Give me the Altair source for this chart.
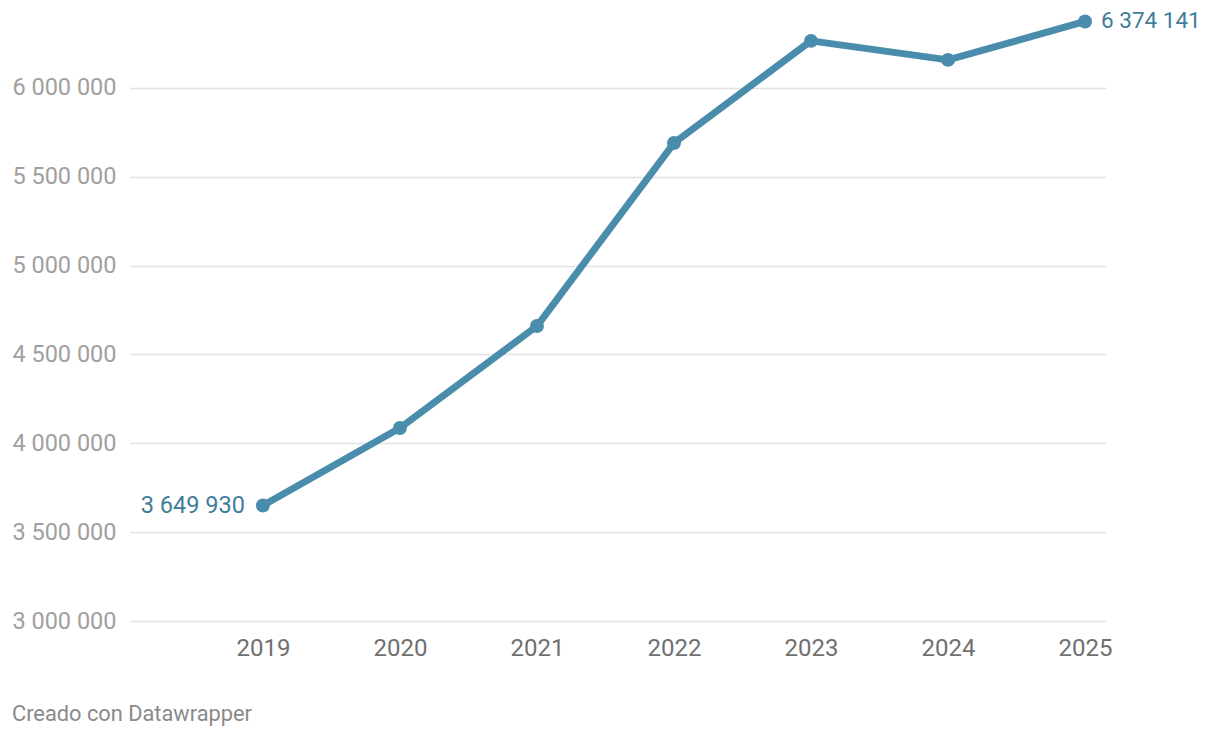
import altair as alt
import pandas as pd

years = [2019, 2020, 2021, 2022, 2023, 2024, 2025]
values = [3649930, 4086000, 4660000, 5690000, 6265000, 6158000, 6374141]
y_ticks = [3000000, 3500000, 4000000, 4500000, 5000000, 5500000, 6000000]
footer = "Creado con Datawrapper"

df = pd.DataFrame({"year": years, "value": values})
df["label"] = [f"{v:,}".replace(",", " ") for v in values]

LINE = "#4a8cab"
LABEL = "#3f7d99"
FONT = "Roboto"

x = alt.X("year:Q", scale=alt.Scale(domain=[2018.03, 2025.153], nice=False, zero=False),
          axis=alt.Axis(values=years, format="d", title=None, grid=False, domain=False,
                        ticks=False, labelFontSize=24, labelColor="#707070",
                        labelPadding=15, labelFont=FONT))
y = alt.Y("value:Q", scale=alt.Scale(domain=[3000000, 6450000], nice=False, zero=False),
          axis=alt.Axis(values=y_ticks, format=",d", title=None, grid=True, gridColor="#e2e2e2",
                        gridWidth=1.5, domain=False, ticks=False, labelFontSize=23.5,
                        labelColor="#a0a0a0", labelPadding=14, labelFont=FONT))

base = alt.Chart(df)
line = base.mark_line(color=LINE, strokeWidth=7, strokeCap="round", strokeJoin="round").encode(x=x, y=y)
pts = base.mark_point(color=LINE, filled=True, opacity=1, size=195).encode(x=x, y=y)

first = base.transform_filter(alt.datum.year == 2019).mark_text(
    align="right", baseline="middle", dx=-18, fontSize=23.5, color=LABEL, font=FONT
).encode(x=x, y=y, text="label:N")
last = base.transform_filter(alt.datum.year == 2025).mark_text(
    align="left", baseline="middle", dx=16, fontSize=22.5, color=LABEL, font=FONT
).encode(x=x, y=y, text="label:N")

foot = alt.Chart(pd.DataFrame({"t": [footer]})).mark_text(
    align="left", baseline="middle", fontSize=21.8, color="#8a8a8a", font=FONT
).encode(x=alt.value(-118), y=alt.value(706), text="t:N")

chart = alt.layer(line, pts, first, last, foot).properties(
    width=976, height=613,
    autosize=alt.AutoSizeParams(type="none"),
    padding={"left": 122, "top": 0, "right": 106, "bottom": 115},
).configure(
    view={"stroke": None},
    locale={"number": {"decimal": ",", "thousands": " ", "grouping": [3], "currency": ["", ""]}},
)

chart.save("out.html", embed_options={"renderer": "svg", "actions": False})
